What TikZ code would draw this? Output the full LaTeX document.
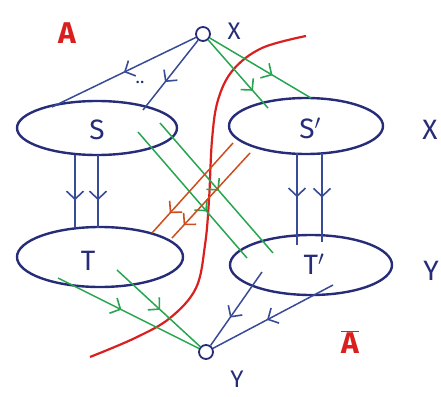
\documentclass[tikz,border=0pt]{standalone}
\usepackage{fontspec}
\setmainfont{Fira Sans}
\usetikzlibrary{shapes.geometric,arrows.meta,decorations.markings,calc}
\definecolor{inkblue}{RGB}{38,44,120}
\definecolor{arrblue}{RGB}{55,75,150}
\definecolor{inkgreen}{RGB}{40,165,80}
\definecolor{inkred}{RGB}{218,32,30}
\definecolor{inkorange}{RGB}{205,78,28}
\tikzset{
  blob/.style={ellipse, draw=inkblue, line width=2.4pt, inner sep=0pt},
  port/.style={circle, draw=inkblue, line width=1.8pt, minimum size=14pt, inner sep=0pt},
  lbl/.style={text=inkblue, font=\fontsize{28}{28}\selectfont},
  redlbl/.style={text=inkred, font=\fontsize{30}{30}\selectfont\bfseries},
  midarr/.style={postaction={decorate,decoration={markings,
     mark=at position #1 with {\arrow{Straight Barb[length=8pt,width=17pt,line width=1.6pt]}}}}},
  bl/.style={draw=arrblue, line width=1.5pt},
  gr/.style={draw=inkgreen, line width=1.5pt},
  og/.style={draw=inkorange, line width=1.5pt},
}
\begin{document}
\begin{tikzpicture}[x=1pt,y=-1pt]
\useasboundingbox (0,0) rectangle (441,396);
% nodes
\node[port] (X) at (203,34) {};
\node[port] (Y) at (206,352) {};
\node[blob, minimum width=160pt, minimum height=54pt] (S) at (97,128) {};
\node[blob, minimum width=154pt, minimum height=56pt] (Sp) at (306,126) {};
\node[blob, minimum width=166pt, minimum height=60pt] (T) at (100,257) {};
\node[blob, minimum width=162pt, minimum height=60pt] (Tp) at (311,265) {};
\node[lbl] (Slab) at (97,130) {S};
\node[lbl] (Splab) at (310,128) {S$'$};
\node[lbl] (Tlab) at (88,261) {T};
\node[lbl] (Tplab) at (314,264) {T$'$};
\node[lbl, font=\fontsize{24}{24}\selectfont] (Xlab) at (234,31) {X};
\node[lbl, font=\fontsize{24}{24}\selectfont] (Ylab) at (237,379) {Y};
\node[lbl] (Xr) at (430,130) {X};
\node[lbl] (Yr) at (431,271) {Y};
\node[redlbl] (A) at (67,33) {A};
\node[redlbl] (Ab) at (350,342) {$\overline{\mbox{A}}$};
\node[text=inkblue, font=\fontsize{18}{18}\selectfont] (dots) at (140,82) {..};
% coordinates
\coordinate (s1) at (52,107);
\coordinate (s2) at (143,110);
\coordinate (sa) at (75,155); \coordinate (ta) at (75,228);
\coordinate (sb) at (98,155); \coordinate (tb) at (98,228);
\coordinate (spa) at (297,153); \coordinate (tpa) at (297,245);
\coordinate (spb) at (322,153); \coordinate (tpb) at (322,242);
\coordinate (g1) at (268,108);
\coordinate (g2) at (311,98);
\coordinate (ga0) at (138,132); \coordinate (ga1) at (247,258);
\coordinate (gb0) at (160,123); \coordinate (gb1) at (273,253);
\coordinate (oc0) at (233,143); \coordinate (oc1) at (152,233);
\coordinate (od0) at (250,153); \coordinate (od1) at (172,238);
\coordinate (ge) at (58,278);
\coordinate (gf) at (117,270);
\coordinate (bg) at (262,272);
\coordinate (bh) at (333,285);
% red cut curve
\draw[inkred, line width=2.2pt] plot[smooth, tension=0.6] coordinates
  {(306,36) (262,48) (233,70) (218,100) (212,140) (209,200) (205,245) (196,288) (170,318) (135,338) (90,357)};
% blue arrows
\draw[bl, midarr=0.5] (X) -- (s1);
\draw[bl, midarr=0.6] (X) -- (s2);
\draw[bl, midarr=0.62] (sa) -- (ta);
\draw[bl, midarr=0.62] (sb) -- (tb);
\draw[bl, midarr=0.48] (spa) -- (tpa);
\draw[bl, midarr=0.5] (spb) -- (tpb);
\draw[bl, midarr=0.62] (bg) -- (Y);
\draw[bl, midarr=0.55] (bh) -- (Y);
% green arrows
\draw[gr, midarr=0.75] (X) -- (g1);
\draw[gr, midarr=0.62] (X) -- (g2);
\draw[gr, midarr=0.63] (ga0) -- (ga1);
\draw[gr, midarr=0.52] (gb0) -- (gb1);
\draw[gr, midarr=0.45] (ge) -- (Y);
\draw[gr, midarr=0.52] (gf) -- (Y);
% orange arrows
\draw[og, midarr=0.78] (oc0) -- (oc1);
\draw[og, midarr=0.85] (od0) -- (od1);
\end{tikzpicture}
\end{document}
